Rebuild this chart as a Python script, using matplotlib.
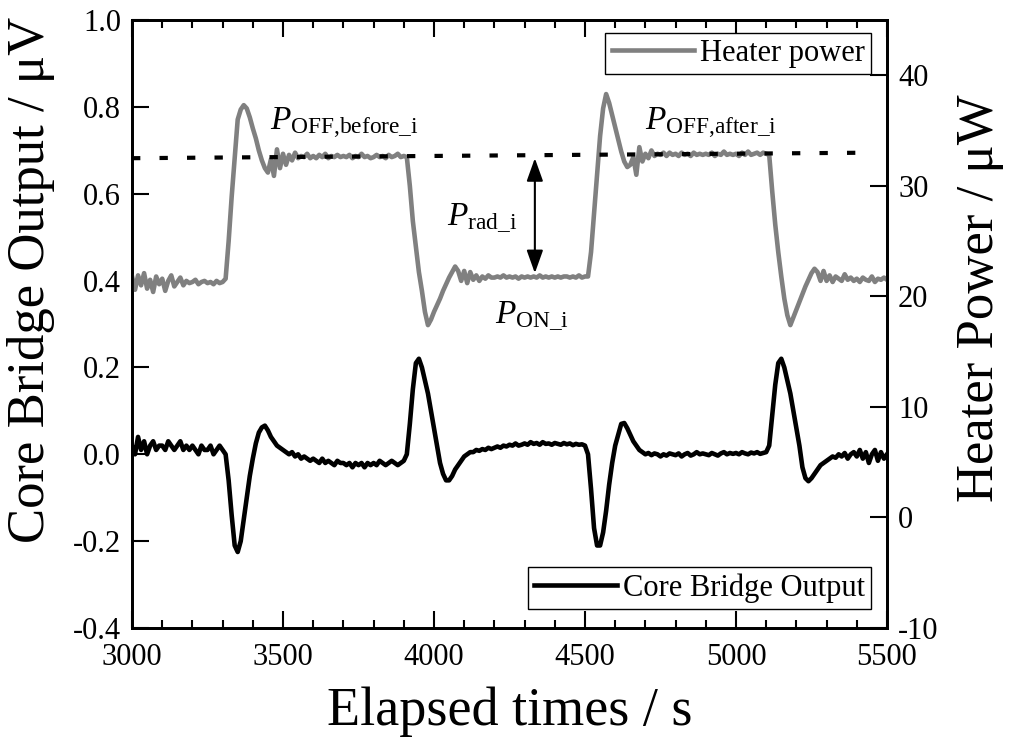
import matplotlib
matplotlib.use('Agg')
import matplotlib.pyplot as plt
import numpy as np

plt.rcParams['font.family'] = ['Liberation Serif', 'DejaVu Serif']
plt.rcParams['mathtext.fontset'] = 'custom'
plt.rcParams['mathtext.rm'] = 'Liberation Serif'
plt.rcParams['mathtext.it'] = 'Liberation Serif:italic'
plt.rcParams['axes.unicode_minus'] = False

# sample times, one reading every 10 s
time_s = np.arange(3000, 5501, 10)

# heater power (right axis, uW), rows of 100 s
heater_uW = [
    21.8, 20.6, 21.9, 21.0, 22.1, 20.7, 21.5, 20.4, 21.8, 21.1,
    21.6, 20.5, 21.4, 21.9, 20.9, 21.3, 21.7, 21.0, 21.4, 21.2,
    21.3, 21.5, 21.1, 21.3, 21.4, 21.2, 21.3, 21.1, 21.4, 21.2,
    21.3, 21.6, 25.0, 29.0, 32.5, 36.0, 36.9, 37.3, 37.0, 36.2,
    35.2, 34.3, 33.2, 32.3, 31.6, 31.2, 32.4, 30.9, 33.3, 31.6,
    32.9, 31.9, 32.8, 32.3, 33.0, 32.5, 32.7, 32.6, 32.9, 32.5,
    32.7, 32.5, 32.8, 32.6, 32.9, 32.5, 32.7, 32.6, 32.8, 32.6,
    32.7, 32.6, 32.8, 32.5, 32.7, 32.6, 32.9, 32.6, 32.7, 32.5,
    32.6, 32.8, 32.6, 32.7, 32.5, 32.8, 32.6, 32.7, 32.9, 32.6,
    32.7, 32.6, 30.0, 26.8, 24.5, 22.2, 20.5, 18.6, 17.4, 17.9,
    18.6, 19.2, 19.8, 20.5, 21.1, 21.7, 22.2, 22.7, 22.3, 21.4,
    22.3, 21.2, 22.2, 21.5, 21.9, 21.4, 21.8, 21.6, 21.9, 21.7,
    21.7, 21.8, 21.7, 21.9, 21.7, 21.8, 21.7, 21.8, 21.6, 21.8,
    21.7, 21.8, 21.7, 21.8, 21.7, 21.9, 21.7, 21.8, 21.7, 21.8,
    21.7, 21.8, 21.7, 21.8, 21.8, 21.7, 21.8, 21.7, 21.9, 21.7,
    21.8, 21.8, 24.0, 27.5, 31.0, 34.5, 37.0, 38.3, 37.5, 36.4,
    35.3, 34.2, 33.1, 32.2, 31.7, 31.9, 32.6, 31.0, 33.5, 32.2,
    32.9, 32.5, 33.2, 32.7, 32.9, 32.8, 33.0, 32.7, 33.0, 32.8,
    32.9, 32.7, 33.0, 32.8, 32.9, 32.7, 33.0, 32.8, 32.9, 32.8,
    32.9, 32.8, 33.0, 32.7, 32.9, 32.8, 33.1, 32.8, 32.9, 32.8,
    32.9, 32.7, 33.0, 32.8, 33.1, 32.8, 32.9, 33.0, 32.8, 33.0,
    32.9, 32.8, 29.5, 26.5, 24.0, 21.8, 19.8, 18.3, 17.4, 18.1,
    18.8, 19.5, 20.2, 20.9, 21.5, 22.1, 22.5, 22.2, 21.4, 22.3,
    21.4, 21.9, 21.3, 21.8, 21.6, 21.4, 22.0, 21.5, 21.7, 21.4,
    21.6, 21.3, 21.7, 21.5, 21.4, 21.8, 21.3, 21.6, 21.5, 21.7,
    21.5,
]

# core bridge output (left axis, uV), rows of 100 s
bridge_uV = [
    0.02, 0.00, 0.04, 0.01, 0.03, 0.00, 0.02, 0.03, 0.01, 0.02,
    0.02, 0.01, 0.03, 0.02, 0.01, 0.02, 0.03, 0.01, 0.02, 0.01,
    0.02, 0.01, 0.00, 0.02, 0.01, 0.01, 0.02, 0.00, 0.01, 0.02,
    0.01, 0.00, -0.06, -0.14, -0.21, -0.225, -0.20, -0.15, -0.10, -0.05,
    -0.01, 0.025, 0.05, 0.062, 0.066, 0.055, 0.04, 0.03, 0.02, 0.015,
    0.01, 0.005, 0.0, 0.005, -0.005, 0.0, -0.01, -0.005, -0.01, -0.015,
    -0.01, -0.015, -0.02, -0.01, -0.02, -0.015, -0.02, -0.025, -0.015, -0.02,
    -0.02, -0.025, -0.02, -0.03, -0.02, -0.025, -0.02, -0.03, -0.02, -0.025,
    -0.02, -0.025, -0.015, -0.02, -0.025, -0.02, -0.015, -0.02, -0.025, -0.02,
    -0.015, 0.0, 0.07, 0.15, 0.21, 0.22, 0.20, 0.17, 0.14, 0.10,
    0.06, 0.02, -0.02, -0.045, -0.06, -0.06, -0.05, -0.035, -0.025, -0.015,
    -0.005, 0.0, 0.005, 0.005, 0.01, 0.008, 0.012, 0.01, 0.015, 0.012,
    0.015, 0.018, 0.015, 0.02, 0.018, 0.022, 0.02, 0.025, 0.02, 0.022,
    0.025, 0.022, 0.028, 0.024, 0.026, 0.022, 0.028, 0.024, 0.025, 0.022,
    0.026, 0.024, 0.022, 0.026, 0.023, 0.025, 0.021, 0.024, 0.022, 0.023,
    0.02, 0.0, -0.08, -0.17, -0.21, -0.21, -0.18, -0.13, -0.07, -0.02,
    0.02, 0.045, 0.07, 0.072, 0.06, 0.045, 0.03, 0.02, 0.01, 0.005,
    0.0, 0.003, -0.002, 0.002, 0.0, -0.005, 0.0, -0.003, 0.002, 0.0,
    -0.002, 0.002, -0.005, 0.0, 0.003, -0.003, 0.0, 0.005, 0.0, 0.002,
    0.0, -0.002, 0.003, 0.0, -0.003, 0.002, 0.005, 0.0, 0.003, 0.001,
    0.003, 0.0, 0.005, 0.002, 0.0, 0.004, 0.002, 0.005, 0.001, 0.003,
    0.005, 0.02, 0.09, 0.16, 0.21, 0.22, 0.20, 0.17, 0.14, 0.10,
    0.06, 0.02, -0.03, -0.055, -0.062, -0.055, -0.045, -0.035, -0.025, -0.02,
    -0.015, -0.01, -0.005, -0.008, 0.0, -0.005, 0.003, -0.01, 0.0, 0.005,
    -0.005, 0.01, -0.01, 0.005, -0.02, 0.0, 0.01, -0.015, 0.005, -0.01,
    0.0,
]

# dashed P_OFF reference level (uW)
ref_time = [3000, 5450]
ref_level = [32.5, 33.0]

fig = plt.figure(figsize=(10.1, 7.44), dpi=100)
ax = fig.add_axes([0.1307, 0.1559, 0.7475, 0.8172])
ax2 = ax.twinx()

ax.plot(time_s, bridge_uV, color='black', lw=3.3, label='Core Bridge Output')
ax2.plot(time_s, heater_uW, color='#808080', lw=3.3, label='Heater power')
ax2.plot(ref_time, ref_level, color='black', lw=3, linestyle=(0, (2.0, 4.6)))

ax.set_xlim(3000, 5500)
ax.set_ylim(-0.4, 1.0)
ax2.set_ylim(-10, 45)
ax.set_xticks(np.arange(3000, 5501, 500))
ax.set_xticks(np.arange(3000, 5501, 100), minor=True)
ax.set_yticks(np.arange(-0.4, 1.01, 0.2))
ax.set_yticklabels([f'{v:.1f}' for v in np.arange(-0.4, 1.01, 0.2)])
ax2.set_yticks(np.arange(-10, 41, 10))

ax.tick_params(axis='x', which='major', direction='in', top=True, length=12, width=1.5, labelsize=22, pad=11)
ax.tick_params(axis='x', which='minor', direction='in', top=True, length=6, width=1.5)
ax.tick_params(axis='y', direction='in', length=12, width=1.5, labelsize=22, pad=8)
ax2.tick_params(axis='y', direction='in', length=12, width=1.5, labelsize=22, pad=8)
for a in (ax, ax2):
    for s in a.spines.values():
        s.set_linewidth(2)

ax.set_xlabel('Elapsed times / s', fontsize=39, labelpad=10)
ax.set_ylabel('Core Bridge Output / μV', fontsize=38)
ax2.set_ylabel('Heater Power / μW', fontsize=38)
ax.yaxis.set_label_coords(-0.102, 0.572)
ax2.yaxis.set_label_coords(1.091, 0.543)

ax2.text(3457, 35.05, r'$P_{\mathrm{OFF{,}before\_i}}$', fontsize=24, va='baseline')
ax2.text(4043, 26.45, r'$P_{\mathrm{rad\_i}}$', fontsize=24, va='baseline')
ax2.text(4202, 17.6, r'$P_{\mathrm{ON\_i}}$', fontsize=24, va='baseline')
ax2.text(4699, 35.05, r'$P_{\mathrm{OFF{,}after\_i}}$', fontsize=24, va='baseline')
ax2.annotate('', xy=(4334, 32.5), xytext=(4334, 22.1),
             arrowprops=dict(arrowstyle='<|-|>,head_length=0.7,head_width=0.25',
                             color='black', lw=1.5, mutation_scale=20,
                             shrinkA=0, shrinkB=0))

leg_kw = dict(fontsize=22, fancybox=False, edgecolor='black', framealpha=1,
              handlelength=2.7, handletextpad=0.2, borderpad=0.2, borderaxespad=0)
l2 = ax2.legend(loc='upper right', bbox_to_anchor=(0.979, 0.979), **leg_kw)
l1 = ax.legend(loc='lower right', bbox_to_anchor=(0.979, 0.031), **leg_kw)
for l in (l1, l2):
    l.get_frame().set_linewidth(1)

fig.savefig('out.png', dpi=100)
